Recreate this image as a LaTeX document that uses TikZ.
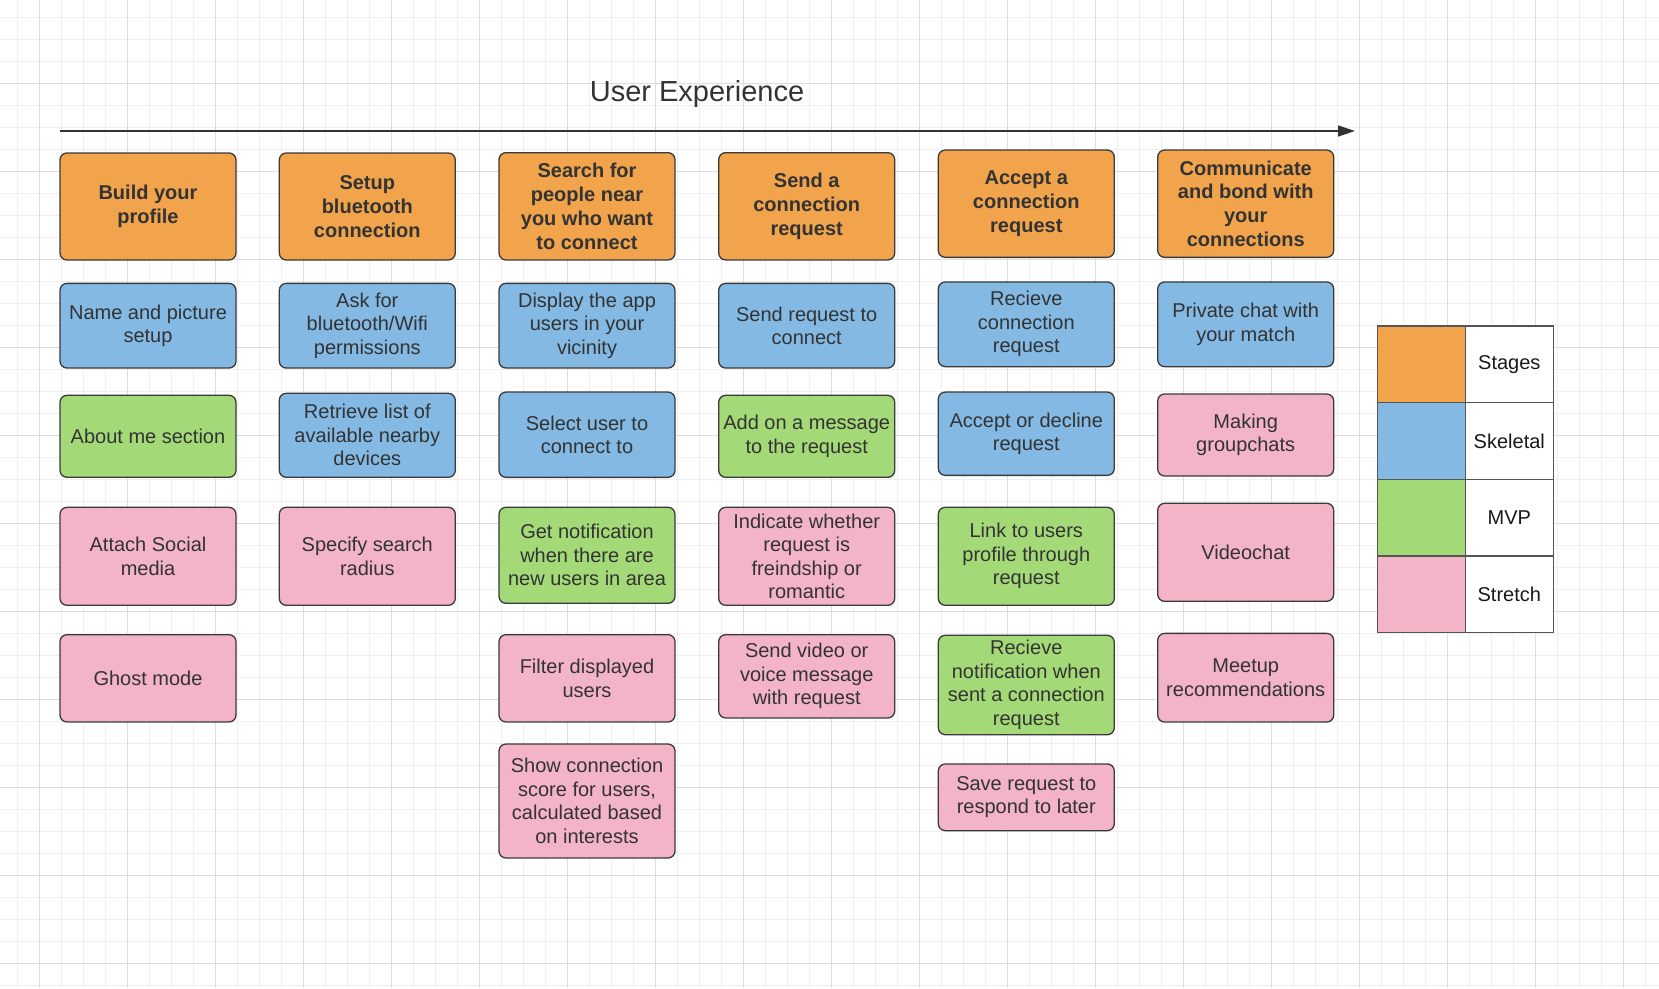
\documentclass[tikz,border=0pt]{standalone}
\usepackage{fontspec}
\setmainfont{Liberation Sans}
\usetikzlibrary{positioning}
\usetikzlibrary{arrows.meta}

\definecolor{stagecol}{HTML}{F1A44C}
\definecolor{skelcol}{HTML}{83B9E3}
\definecolor{mvpcol}{HTML}{A4D977}
\definecolor{stretchcol}{HTML}{F3B4C7}
\definecolor{cardline}{HTML}{3A3A3A}
\definecolor{cardtext}{HTML}{333333}
\definecolor{keyline}{HTML}{555555}
\definecolor{gridminor}{HTML}{EFEFEF}
\definecolor{gridmajor}{HTML}{DDDDDD}

\tikzset{
  card/.style={draw=cardline,line width=1.3pt,rounded corners=7pt,minimum width=176pt,inner sep=0pt,align=center,text=cardtext,font=\fontsize{20pt}{23.5pt}\selectfont},
  stage/.style={card,fill=stagecol,font=\fontsize{20pt}{23.8pt}\selectfont\bfseries},
  skel/.style={card,fill=skelcol},
  mvp/.style={card,fill=mvpcol},
  stretch/.style={card,fill=stretchcol},
  swatch/.style={draw=keyline,line width=1.3pt,minimum width=88pt,minimum height=76.7pt,inner sep=0pt,outer sep=0pt},
  keycell/.style={swatch,fill=white,text=black!90,font=\fontsize{20pt}{24pt}\selectfont},
  timeline/.style={draw=cardtext,line width=1.3pt,-{Triangle[length=17pt,width=11pt]}}
}

\begin{document}
\begin{tikzpicture}[x=1pt,y=-1pt]
\useasboundingbox (0,0) rectangle (1659,988);
\fill[white] (0,0) rectangle (1659,988);
% background grid
\foreach \gx in {17.3,39.3,...,1659}
  \draw[gridminor,line width=1pt] (\gx,0) -- (\gx,988);
\foreach \gy in {17.3,39.3,...,988}
  \draw[gridminor,line width=1pt] (0,\gy) -- (1659,\gy);
\foreach \gx in {39.3,127.3,...,1659}
  \draw[gridmajor,line width=1pt] (\gx,0) -- (\gx,988);
\foreach \gy in {83.3,171.3,...,988}
  \draw[gridmajor,line width=1pt] (0,\gy) -- (1659,\gy);

% title and timeline
\node[anchor=base,text=cardtext,font=\fontsize{29pt}{34pt}\selectfont](title) at (697,101.7){User Experience};
\coordinate (tlStart) at (60,131);
\coordinate (tlEnd) at (1355,131);
\path (tlStart) edge[timeline] (tlEnd);

% build your profile
\node[stage,minimum height=107pt](build) at (148,206.5){Build your\\profile};
\node[skel,minimum height=84.7pt](name) at (148,325.7){Name and picture\\setup};
\node[mvp,minimum height=82pt](about) at (148,436.3){About me section};
\node[stretch,minimum height=98pt](social) at (148,556.3){Attach Social\\media};
\node[stretch,minimum height=87.3pt](ghost) at (148,678.3){Ghost mode};

% setup bluetooth
\node[stage,minimum height=107pt](setup) at (367.3,206.5){Setup\\bluetooth\\connection};
\node[skel,minimum height=84.7pt](perm) at (367.3,325.7){Ask for\\bluetooth/Wifi\\permissions};
\node[skel,minimum height=84pt](devices) at (367.3,435.3){Retrieve list of\\available nearby\\devices};
\node[stretch,minimum height=98pt](radius) at (367.3,556.3){Specify search\\radius};

% search for people
\node[stage,minimum height=107.3pt](search) at (587,206.3){Search for\\people near\\you who want\\to connect};
\node[skel,minimum height=84.7pt](display) at (587,325.7){Display the app\\users in your\\vicinity};
\node[skel,minimum height=85.3pt](select) at (587,434.7){Select user to\\connect to};
\node[mvp,minimum height=96pt](newusers) at (587,555.3){Get notification\\when there are\\new users in area};
\node[stretch,minimum height=87.3pt](filter) at (587,678.3){Filter displayed\\users};
\node[stretch,minimum height=114pt](score) at (587,801){Show connection\\score for users,\\calculated based\\on interests};

% send a request
\node[stage,minimum height=107.3pt](sendstage) at (806.7,206.3){Send a\\connection\\request};
\node[skel,minimum height=84.7pt](sendreq) at (806.7,325.7){Send request to\\connect};
\node[mvp,minimum height=82pt](addmsg) at (806.7,436.3){Add on a message\\to the request};
\node[stretch,minimum height=98pt](kind) at (806.7,556.3){Indicate whether\\request is\\freindship or\\romantic};
\node[stretch,minimum height=83.3pt](voice) at (806.7,676.3){Send video or\\voice message\\with request};

% accept a request
\node[stage,minimum height=107.3pt](acceptstage) at (1026.3,203.7){Accept a\\connection\\request};
\node[skel,minimum height=84.7pt](recieve) at (1026.3,324.3){Recieve\\connection\\request};
\node[skel,minimum height=83.3pt](decline) at (1026.3,433.7){Accept or decline\\request};
\node[mvp,minimum height=98pt](link) at (1026.3,556.3){Link to users\\profile through\\request};
\node[mvp,minimum height=99.4pt](sentnotif) at (1026.3,685){Recieve\\notification when\\sent a connection\\request};
\node[stretch,minimum height=66.7pt](save) at (1026.3,797.3){Save request to\\respond to later};

% communicate
\node[stage,minimum height=107.3pt](bond) at (1245.7,203.7){Communicate\\and bond with\\your\\connections};
\node[skel,minimum height=84.7pt](chat) at (1245.7,324.3){Private chat with\\your match};
\node[stretch,minimum height=82pt](group) at (1245.7,435){Making\\groupchats};
\node[stretch,minimum height=98pt](videochat) at (1245.7,552.3){Videochat};
\node[stretch,minimum height=88.7pt](meetup) at (1245.7,677.7){Meetup\\recommendations};

% legend
\node[swatch,fill=stagecol](keyStages) at (1421.3,364.3){};
\node[keycell,right=0pt of keyStages](labStages){Stages};
\node[swatch,fill=skelcol,below=0pt of keyStages](keySkel){};
\node[keycell,right=0pt of keySkel](labSkel){Skeletal};
\node[swatch,fill=mvpcol,below=0pt of keySkel](keyMvp){};
\node[keycell,right=0pt of keyMvp](labMvp){MVP};
\node[swatch,fill=stretchcol,below=0pt of keyMvp](keyStretch){};
\node[keycell,right=0pt of keyStretch](labStretch){Stretch};
\end{tikzpicture}
\end{document}
